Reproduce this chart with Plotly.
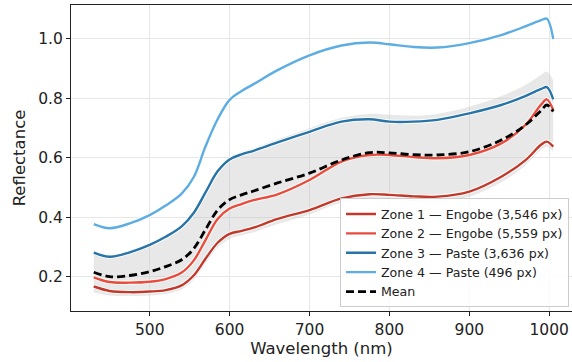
import plotly.graph_objects as go

wavelength = [430, 450, 475, 500, 520, 540, 555, 570, 585, 600, 615, 630, 660, 700,
              740, 775, 800, 830, 860, 900, 940, 970, 990, 997, 1005]

zone1 = [0.168, 0.153, 0.149, 0.151, 0.156, 0.172, 0.205, 0.262, 0.315, 0.345, 0.355, 0.366,
         0.395, 0.425, 0.464, 0.478, 0.476, 0.471, 0.470, 0.487, 0.537, 0.592, 0.645, 0.655, 0.638]
zone2 = [0.199, 0.183, 0.181, 0.184, 0.193, 0.215, 0.255, 0.325, 0.395, 0.430, 0.445, 0.458,
         0.478, 0.526, 0.588, 0.610, 0.610, 0.603, 0.599, 0.610, 0.649, 0.710, 0.780, 0.797, 0.761]
zone3 = [0.282, 0.268, 0.283, 0.308, 0.335, 0.370, 0.415, 0.485, 0.555, 0.595, 0.612, 0.624,
         0.652, 0.688, 0.722, 0.730, 0.722, 0.722, 0.728, 0.750, 0.778, 0.808, 0.832, 0.838, 0.797]
zone4 = [0.378, 0.364, 0.380, 0.408, 0.440, 0.480, 0.535, 0.640, 0.730, 0.795, 0.825, 0.848,
         0.895, 0.945, 0.978, 0.988, 0.982, 0.973, 0.971, 0.986, 1.013, 1.042, 1.063, 1.068, 1.000]
mean = [0.216, 0.201, 0.205, 0.218, 0.235, 0.258, 0.295, 0.360, 0.425, 0.460, 0.476, 0.489,
        0.516, 0.549, 0.593, 0.618, 0.617, 0.611, 0.610, 0.621, 0.660, 0.710, 0.760, 0.778, 0.756]
band_upper = [0.290, 0.275, 0.290, 0.315, 0.342, 0.378, 0.425, 0.495, 0.562, 0.603, 0.620, 0.633,
              0.662, 0.700, 0.735, 0.748, 0.745, 0.742, 0.748, 0.772, 0.808, 0.845, 0.880, 0.890, 0.860]
band_lower = [0.148, 0.138, 0.136, 0.138, 0.143, 0.158, 0.190, 0.245, 0.298, 0.328, 0.340, 0.350,
              0.378, 0.410, 0.450, 0.463, 0.460, 0.455, 0.455, 0.470, 0.518, 0.575, 0.628, 0.638, 0.622]

names = ["Zone 1 — Engobe (3,546 px)", "Zone 2 — Engobe (5,559 px)",
         "Zone 3 — Paste (3,636 px)", "Zone 4 — Paste (496 px)"]
colors = ["#c0392b", "#e74c3c", "#2874a6", "#5dade2"]
series = [zone1, zone2, zone3, zone4]

fig = go.Figure()

# std band
fig.add_trace(go.Scatter(x=wavelength, y=band_upper, mode="lines", line=dict(width=0, shape="spline"),
                         showlegend=False, hoverinfo="skip"))
fig.add_trace(go.Scatter(x=wavelength, y=band_lower, mode="lines", line=dict(width=0, shape="spline"),
                         fill="tonexty", fillcolor="rgba(200,200,200,0.42)", showlegend=False, hoverinfo="skip"))

for ys, name, col in zip(series, names, colors):
    fig.add_trace(go.Scatter(x=wavelength, y=ys, mode="lines",
                             line=dict(color="white", width=4.2, shape="spline"),
                             showlegend=False, hoverinfo="skip"))
    fig.add_trace(go.Scatter(x=wavelength, y=ys, mode="lines", name=name,
                             line=dict(color=col, width=2.4, shape="spline")))

fig.add_trace(go.Scatter(x=wavelength, y=mean, mode="lines", name="Mean",
                         line=dict(color="black", width=2.8, dash="8px,4px", shape="spline")))

font = "DejaVu Sans, sans-serif"
fig.update_layout(
    width=572, height=362,
    margin=dict(l=71, r=0, t=5, b=51, autoexpand=False),
    paper_bgcolor="white", plot_bgcolor="white",
    font=dict(family=font, size=15.5, color="#222"),
    showlegend=True,
    legend=dict(x=0.994, y=0.012, xanchor="right", yanchor="bottom",
                traceorder="normal",
                bgcolor="rgba(255,255,255,0.85)", bordercolor="#cccccc", borderwidth=1,
                font=dict(family=font, size=12.6, color="#222"),
                itemwidth=30, tracegroupgap=0),
)
fig.update_xaxes(
    range=[401.5, 1028.5], tickvals=[500, 600, 700, 800, 900, 1000],
    showgrid=True, gridcolor="#e6e6e6", gridwidth=0.8,
    showline=True, linecolor="#222", linewidth=1.2, mirror=True,
    ticks="outside", ticklen=4, tickcolor="#222",
    zeroline=False, automargin=False,
    title=dict(text="Wavelength (nm)", font=dict(size=16.5), standoff=4),
)
fig.update_yaxes(
    range=[0.0857, 1.114], tickvals=[0.2, 0.4, 0.6, 0.8, 1.0], ticktext=["0.2", "0.4", "0.6", "0.8", "1.0"],
    showgrid=True, gridcolor="#e6e6e6", gridwidth=0.8,
    showline=True, linecolor="#222", linewidth=1.2, mirror=False,
    ticks="outside", ticklen=4, tickcolor="#222",
    zeroline=False, automargin=False,
    title=dict(text="Reflectance", font=dict(size=16.5), standoff=8),
)

fig.write_html("out.html", config={"displayModeBar": False},
               post_script="document.body.style.margin='0';document.body.style.padding='0';")
